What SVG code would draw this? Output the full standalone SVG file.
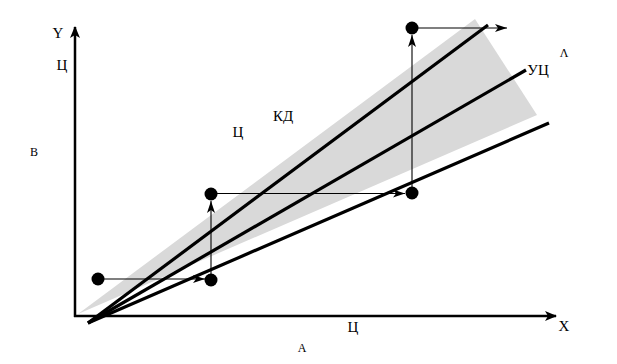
<svg xmlns="http://www.w3.org/2000/svg" width="617" height="364" viewBox="0 0 617 364">
<defs>
<style>
.ax{stroke:#000;stroke-width:2.5;fill:none}
.ln{stroke:#000;stroke-width:3.2;fill:none;stroke-linecap:butt}
.th{stroke:#000;stroke-width:1.1;fill:none}
.dot{fill:#000}
.t{font-family:"Liberation Serif","Times New Roman",serif;font-size:15px;fill:#000;text-anchor:middle}
.s{font-family:"Liberation Serif","Times New Roman",serif;font-size:12px;fill:#000;text-anchor:middle}
</style>
<marker id="big" viewBox="0 0 12 10" refX="11" refY="5" markerWidth="12" markerHeight="10" markerUnits="userSpaceOnUse" orient="auto"><path d="M0,0 L12,5 L0,10 L3,5 Z" fill="#000"/></marker>
<marker id="sm" viewBox="0 0 12 8" refX="12" refY="4" markerWidth="12" markerHeight="8" markerUnits="userSpaceOnUse" orient="auto"><path d="M0,0 L12,4 L0,8 L3,4 Z" fill="#000"/></marker>
</defs>
<rect width="617" height="364" fill="#fff"/>
<polygon id="wedge" points="78,314 475,19 537,115" fill="#d9d9d9"/>
<g id="axes">
<line class="ax" x1="75" y1="317" x2="75" y2="27" marker-end="url(#big)"/>
<line class="ax" x1="74" y1="316" x2="556" y2="316" marker-end="url(#big)"/>
</g>
<g id="lines">
<line class="ln" x1="88" y1="323" x2="488" y2="25"/>
<line class="ln" x1="88" y1="323" x2="526" y2="70"/>
<line class="ln" x1="88" y1="323" x2="549" y2="123"/>
</g>
<g id="connectors">
<line class="th" x1="98" y1="279" x2="205" y2="279" marker-end="url(#sm)"/>
<line class="th" x1="211" y1="280" x2="211" y2="201" marker-end="url(#sm)"/>
<line class="th" x1="211" y1="193.5" x2="405" y2="193.5" marker-end="url(#sm)"/>
<line class="th" x1="412" y1="193" x2="412" y2="35" marker-end="url(#sm)"/>
<line class="th" x1="412" y1="28" x2="507" y2="28" marker-end="url(#sm)"/>
</g>
<g id="p1"><circle class="dot" cx="98" cy="279" r="6.5"/></g>
<g id="p2"><circle class="dot" cx="211" cy="280" r="6.5"/></g>
<g id="p3"><circle class="dot" cx="211" cy="194" r="6.5"/></g>
<g id="p4"><circle class="dot" cx="412" cy="193" r="6.5"/></g>
<g id="p5"><circle class="dot" cx="412" cy="28" r="6.5"/></g>
<g id="labels">
<text class="t" x="58" y="38">Y</text>
<text class="t" x="62" y="70">Ц</text>
<text class="s" x="34" y="156">В</text>
<text class="t" x="238" y="137">Ц</text>
<text class="t" x="283" y="121">КД</text>
<text class="t" x="538" y="75">УЦ</text>
<text class="s" x="564" y="57">Λ</text>
<text class="t" x="353" y="332">Ц</text>
<text class="t" x="564" y="331">X</text>
<text class="s" x="302" y="352">А</text>
</g>
</svg>
